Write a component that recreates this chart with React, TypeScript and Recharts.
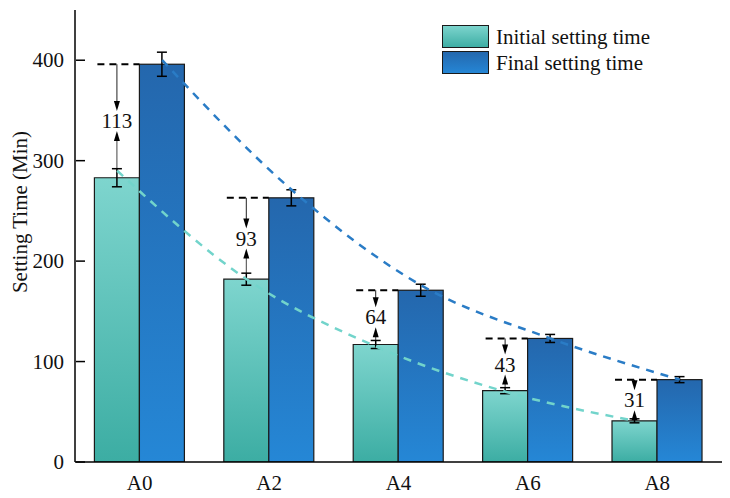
import React from "react";
import { ComposedChart, Bar, Line, XAxis, YAxis, ErrorBar, Label } from "recharts";

const categories = ["A0", "A2", "A4", "A6", "A8"];
const initialTime = [283, 182, 117, 71, 41];
const finalTime = [396, 263, 171, 123, 82];
const initialErr = [9, 6, 4, 3, 2];
const finalErr = [12, 8, 6, 4, 3];
const gapLabels = [113, 93, 64, 43, 31];
// dashed fitted curves, read at the bar centres
const initialTrend = [290, 182, 115, 70, 41];
const finalTrend = [400, 271, 176, 123, 82];
const yTicks = [0, 100, 200, 300, 400];

const FONT = "'Liberation Serif', 'Times New Roman', serif";
const FS = 21;
const BAR_SHIFT = 0.174; // half a bar width, in category units

const data = categories.map((name, i) => ({
  name,
  initial: initialTime[i],
  final: finalTime[i],
  initialErr: initialErr[i],
  finalErr: finalErr[i],
  gap: gapLabels[i],
}));
const initialTrendData = initialTrend.map((v, i) => ({ x: i - BAR_SHIFT, v }));
const finalTrendData = finalTrend.map((v, i) => ({ x: i + BAR_SHIFT, v }));

function YTick(props: any) {
  const { x, y, payload } = props;
  return (
    <g>
      <line x1={x + 12} x2={x + 21} y1={y} y2={y} stroke="#000" strokeWidth={1.5} />
      <text x={x} y={y} textAnchor="end" dominantBaseline="central" fontSize={FS} fontFamily={FONT} fill="#111">
        {payload.value}
      </text>
    </g>
  );
}

function YTitle() {
  return (
    <text
      x={20}
      y={212}
      transform="rotate(-90 20 212)"
      textAnchor="middle"
      dominantBaseline="central"
      fontSize={FS}
      fontFamily={FONT}
      fill="#111"
    >
      Setting Time (Min)
    </text>
  );
}

// final bar + the difference annotation over the initial bar next to it
function FinalBarShape(props: any) {
  const { x, y, width, height, payload } = props;
  if (!payload || !height) return null;
  const bottom = y + height;
  const ppu = height / payload.final;
  const initTop = bottom - payload.initial * ppu;
  const errTop = bottom - (payload.initial + payload.initialErr) * ppu;
  const ax = x - width / 2;
  const mid = (y + initTop) / 2;
  const downTip = mid - 10;
  const upTip = mid + 10;
  return (
    <g>
      <rect x={x} y={y} width={width} height={height} fill="url(#gradFinal)" stroke="#1a1a1a" strokeWidth={1.2} />
      <line x1={x - width + 3} x2={x} y1={y} y2={y} stroke="#000" strokeWidth={2} strokeDasharray="7 5" />
      <line x1={ax} x2={ax} y1={y} y2={downTip - 6} stroke="#222" strokeWidth={1} />
      <polygon points={`${ax - 3},${downTip - 10} ${ax + 3},${downTip - 10} ${ax},${downTip}`} fill="#000" />
      <line x1={ax} x2={ax} y1={errTop} y2={upTip + 6} stroke="#444" strokeWidth={1} />
      <polygon points={`${ax - 3},${upTip + 10} ${ax + 3},${upTip + 10} ${ax},${upTip}`} fill="#000" />
      <text x={ax} y={mid} textAnchor="middle" dominantBaseline="central" fontSize={FS} fontFamily={FONT} fill="#111">
        {payload.gap}
      </text>
    </g>
  );
}

function LegendBox() {
  const items = [
    { label: "Initial setting time", grad: "url(#gradInit)" },
    { label: "Final setting time", grad: "url(#gradFinal)" },
  ];
  return (
    <div style={{ position: "absolute", left: 442, top: 24 }}>
      {items.map((it) => (
        <div key={it.label} style={{ display: "flex", alignItems: "center", height: 26 }}>
          <svg width={48} height={24} style={{ display: "block" }}>
            <rect x={0.5} y={0.5} width={46} height={22} fill={it.grad} stroke="#1a1a1a" strokeWidth={1} />
          </svg>
          <span style={{ fontFamily: FONT, fontSize: FS, color: "#111", marginLeft: 6, lineHeight: "24px" }}>
            {it.label}
          </span>
        </div>
      ))}
    </div>
  );
}

export default function App() {
  return (
    <div style={{ position: "absolute", left: 0, top: 0, width: 730, height: 498, background: "#fff" }}>
      <svg width={0} height={0} style={{ position: "absolute" }}>
        <defs>
          <linearGradient id="gradInit" x1="0" y1="0" x2="0" y2="1">
            <stop offset="0%" stopColor="#7ed5ce" />
            <stop offset="100%" stopColor="#3cada3" />
          </linearGradient>
          <linearGradient id="gradFinal" x1="0" y1="0" x2="0" y2="1">
            <stop offset="0%" stopColor="#2467ad" />
            <stop offset="100%" stopColor="#2587d6" />
          </linearGradient>
        </defs>
      </svg>
      <ComposedChart
        width={730}
        height={498}
        data={data}
        margin={{ top: 10, right: 8, bottom: 0, left: 0 }}
        barCategoryGap="15%"
        barGap={0}
      >
        <XAxis
          xAxisId="c"
          dataKey="name"
          height={36}
          tickLine={false}
          tickSize={0}
          tickMargin={13}
          axisLine={{ stroke: "#000", strokeWidth: 1.5 }}
          tick={{ fontSize: FS, fontFamily: FONT, fill: "#111" }}
        />
        <XAxis
          xAxisId="n"
          dataKey="x"
          type="number"
          orientation="top"
          domain={[-0.5, 4.5]}
          allowDataOverflow
          height={0}
          tick={false}
          tickLine={false}
          axisLine={{ stroke: "#000", strokeWidth: 1.5 }}
        />
        <YAxis
          yAxisId="l"
          width={75}
          domain={[0, 450]}
          ticks={yTicks}
          allowDataOverflow
          tickLine={false}
          tickSize={0}
          tickMargin={11}
          axisLine={{ stroke: "#000", strokeWidth: 1.5 }}
          tick={<YTick />}
        >
          <Label content={<YTitle />} />
        </YAxis>
        <YAxis
          yAxisId="r"
          orientation="right"
          width={0}
          domain={[0, 450]}
          tick={false}
          tickLine={false}
          axisLine={{ stroke: "#000", strokeWidth: 1.5 }}
        />
        <Bar
          xAxisId="c"
          yAxisId="l"
          dataKey="initial"
          fill="url(#gradInit)"
          stroke="#1a1a1a"
          strokeWidth={1.2}
          isAnimationActive={false}
        >
          <ErrorBar dataKey="initialErr" width={5} stroke="#000" strokeWidth={1.5} direction="y" />
        </Bar>
        <Bar
          xAxisId="c"
          yAxisId="l"
          dataKey="final"
          fill="url(#gradFinal)"
          shape={<FinalBarShape />}
          isAnimationActive={false}
        >
          <ErrorBar dataKey="finalErr" width={5} stroke="#000" strokeWidth={1.5} direction="y" />
        </Bar>
        <Line
          xAxisId="n"
          yAxisId="l"
          data={initialTrendData}
          dataKey="v"
          type="monotone"
          stroke="#72d4cb"
          strokeWidth={2.5}
          strokeDasharray="8 7"
          dot={false}
          activeDot={false}
          isAnimationActive={false}
        />
        <Line
          xAxisId="n"
          yAxisId="l"
          data={finalTrendData}
          dataKey="v"
          type="monotone"
          stroke="#2a7cc6"
          strokeWidth={2.5}
          strokeDasharray="8 7"
          dot={false}
          activeDot={false}
          isAnimationActive={false}
        />
      </ComposedChart>
      <LegendBox />
    </div>
  );
}
